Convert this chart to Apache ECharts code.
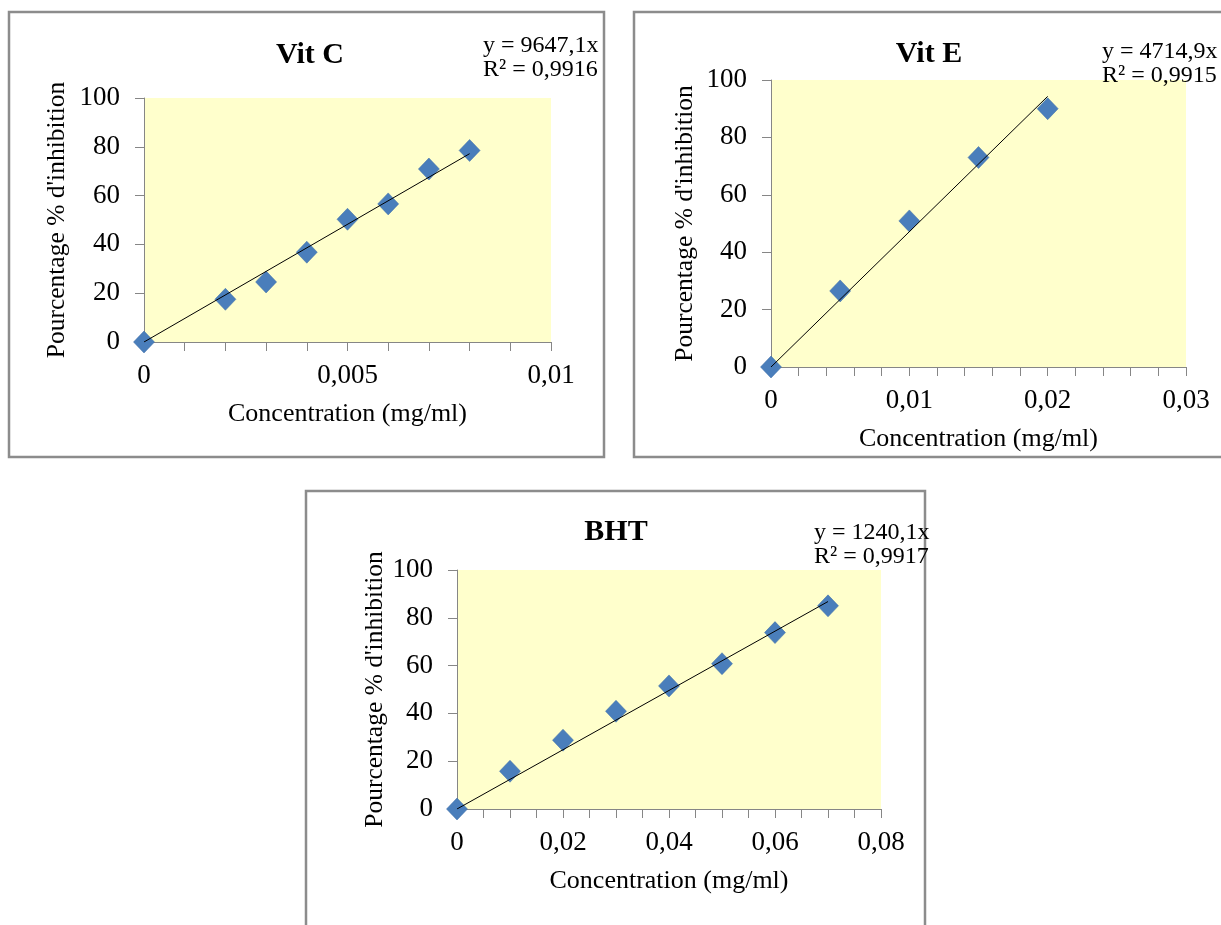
<!DOCTYPE html>
<html>
<head>
<meta charset="utf-8">
<style>
  html, body { margin: 0; padding: 0; background: #fff; }
  #chart { width: 1221px; height: 925px; }
</style>
<script src="https://cdn.jsdelivr.net/npm/echarts@6/dist/echarts.min.js"></script>
</head>
<body>
<div id="chart"></div>
<script>
// valeurs
var vitCConc = [0, 0.002, 0.003, 0.004, 0.005, 0.006, 0.007, 0.008];
var vitCInhib = [0, 17.5, 24.6, 36.8, 50.3, 56.6, 70.9, 78.5];
var vitEConc = [0, 0.005, 0.01, 0.015, 0.02];
var vitEInhib = [0, 26.5, 50.9, 73.0, 90.0];
var bhtConc = [0, 0.01, 0.02, 0.03, 0.04, 0.05, 0.06, 0.07];
var bhtInhib = [0, 15.8, 28.8, 40.9, 51.5, 60.8, 73.8, 85.0];

var titles = ['Vit C', 'Vit E', 'BHT'];
var slopes = [9647.1, 4714.9, 1240.1];
var equations = ['y = 9647,1x\nR² = 0,9916', 'y = 4714,9x\nR² = 0,9915', 'y = 1240,1x\nR² = 0,9917'];
var xMax = [0.01, 0.03, 0.08];
var xStep = [0.001, 0.002, 0.005];   // graduations
var xLabelEvery = [5, 5, 4];         // une étiquette toutes les n graduations

var font = 'Liberation Serif, Times New Roman, serif';
var axisColor = '#868686';
var blue = '#4a7ebb';

var concs = [vitCConc, vitEConc, bhtConc];
var inhibs = [vitCInhib, vitEInhib, bhtInhib];

function comma(v) {
  return String(+v.toFixed(4)).replace('.', ',');
}

var grids = [
  { left: 144, top: 98, width: 407, height: 244 },
  { left: 771, top: 80, width: 415, height: 287 },
  { left: 457, top: 570, width: 424, height: 239 }
];
var yNameGap = [74, 73, 67];

var xAxes = [], yAxes = [], series = [];
grids.forEach(function (g, i) {
  g.show = true;
  g.backgroundColor = '#ffffcc';
  g.borderWidth = 0;
  g.containLabel = false;
  xAxes.push({
    gridIndex: i,
    type: 'value',
    min: 0,
    max: xMax[i],
    interval: xStep[i],
    name: 'Concentration (mg/ml)',
    nameLocation: 'middle',
    nameGap: 59,
    nameTextStyle: { fontFamily: font, fontSize: 26, color: '#000' },
    splitLine: { show: false },
    axisLine: { lineStyle: { color: axisColor, width: 1 } },
    axisTick: { show: true, length: 9, lineStyle: { color: axisColor } },
    axisLabel: {
      fontFamily: font, fontSize: 27, color: '#000', margin: 20,
      showMaxLabel: true,
      formatter: function (v) {
        var k = Math.round(v / xStep[i]);
        return k % xLabelEvery[i] === 0 ? comma(v) : '';
      }
    }
  });
  yAxes.push({
    gridIndex: i,
    type: 'value',
    min: 0,
    max: 100,
    interval: 20,
    name: "Pourcentage % d'inhibition",
    nameLocation: 'middle',
    nameGap: yNameGap[i],
    nameTextStyle: { fontFamily: font, fontSize: 25.5, color: '#000' },
    splitLine: { show: false },
    axisLine: { show: true, lineStyle: { color: axisColor, width: 1 } },
    axisTick: { show: true, length: 9, lineStyle: { color: axisColor } },
    axisLabel: { fontFamily: font, fontSize: 27, color: '#000', margin: 24 }
  });
  series.push({
    type: 'scatter',
    xAxisIndex: i,
    yAxisIndex: i,
    symbol: 'diamond',
    symbolSize: [21, 22],
    clip: false,
    itemStyle: { color: blue, opacity: 1, borderColor: '#3d6da6', borderWidth: 0.5 },
    data: concs[i].map(function (c, j) { return [c, inhibs[i][j]]; }),
    z: 2
  });
  var last = concs[i][concs[i].length - 1];
  series.push({
    type: 'line',
    xAxisIndex: i,
    yAxisIndex: i,
    symbol: 'none',
    lineStyle: { color: '#000', width: 1 },
    data: [[0, 0], [last, slopes[i] * last]],
    z: 3,
    silent: true
  });
});

var boxes = [
  { x: 9, y: 12, w: 595, h: 445 },
  { x: 634, y: 12, w: 600, h: 445 },
  { x: 306, y: 491, w: 619, h: 450 }
];
var titlePos = [[305, 35], [924, 34], [611, 512]];
var eqPos = [[483, 34], [1102, 40], [814, 521]];

var graphic = [];
boxes.forEach(function (b) {
  graphic.push({
    type: 'rect',
    shape: { x: b.x, y: b.y, width: b.w, height: b.h },
    style: { fill: 'none', stroke: '#8c8c8c', lineWidth: 2.5 },
    z: 0
  });
});
equations.forEach(function (t, i) {
  graphic.push({
    type: 'text',
    x: eqPos[i][0],
    y: eqPos[i][1],
    style: { text: t, fontFamily: font, fontSize: 24, lineHeight: 24, fill: '#000' },
    z: 10
  });
});

var chart = echarts.init(document.getElementById('chart'));
chart.setOption({
  backgroundColor: '#fff',
  animation: false,
  title: titles.map(function (t, i) {
    return {
      text: t,
      left: titlePos[i][0],
      top: titlePos[i][1],
      textAlign: 'center',
      textStyle: { fontFamily: font, fontSize: 30, fontWeight: 'bold', color: '#000' }
    };
  }),
  grid: grids,
  xAxis: xAxes,
  yAxis: yAxes,
  series: series,
  graphic: graphic
});
</script>
</body>
</html>
